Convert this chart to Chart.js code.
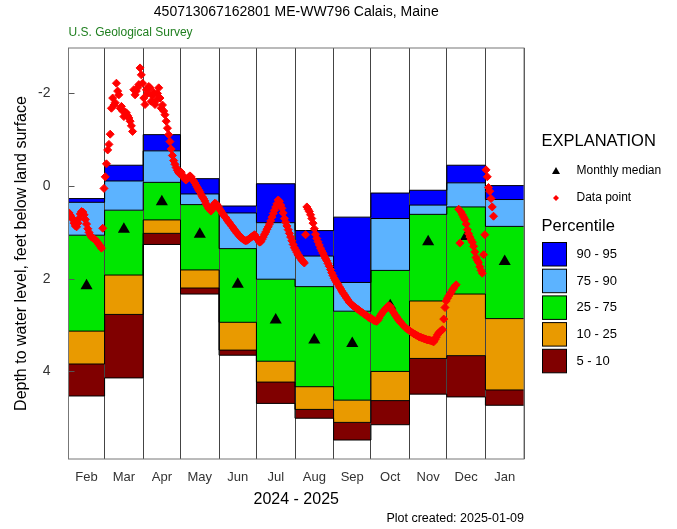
<!DOCTYPE html>
<html>
<head>
<meta charset="utf-8">
<script src="https://cdn.jsdelivr.net/npm/chart.js@4.4.1/dist/chart.umd.min.js"></script>
<style>
  html, body { margin: 0; background: #fff; }
  #wrap { width: 677px; height: 529px; }
</style>
</head>
<body>
<div id="wrap"><canvas id="chart" width="677" height="529"></canvas></div>
<script>
// Groundwater percentile plot — ME-WW796 Calais, Maine

const FONT = "'Liberation Sans', Arial, sans-serif";

// ---------- Data ----------
const months = ["Feb", "Mar", "Apr", "May", "Jun", "Jul", "Aug", "Sep", "Oct", "Nov", "Dec", "Jan"];
const monthDays = [29, 31, 30, 31, 30, 31, 31, 30, 31, 30, 31, 31];

// percentile levels per month (feet below land surface)
const p95 = [0.27, -0.45, -1.11, -0.16, 0.43, -0.05, 0.96, 0.67, 0.15, 0.09, -0.45, -0.01];
const p90 = [0.35, -0.11, -0.76, 0.17, 0.58, 0.79, 1.51, 2.08, 0.70, 0.41, -0.07, 0.29];
const p75 = [1.06, 0.52, -0.08, 0.40, 1.35, 2.01, 2.17, 2.70, 1.82, 0.61, 0.45, 0.87];
const p25 = [3.13, 1.92, 0.73, 1.81, 2.94, 3.78, 4.33, 4.62, 4.00, 2.48, 2.33, 2.86];
const p10 = [3.84, 2.77, 1.02, 2.20, 3.54, 4.23, 4.82, 5.10, 4.63, 3.72, 3.66, 4.40];
const p5 = [4.53, 4.14, 1.26, 2.33, 3.65, 4.69, 5.01, 5.48, 5.15, 4.49, 4.55, 4.73];
const monthlyMedian = [2.15, 0.93, 0.34, 1.04, 2.12, 2.89, 3.32, 3.40, 2.58, 1.20, 1.09, 1.63];

// daily data points, one value per day of each month (null = no value)
const febDepth = [0.58, 0.63, 0.68, 0.72, 0.80, 0.86, 0.88, 0.80, 0.70, 0.60, 0.55, 0.56, 0.62, 0.72, 0.82,
  0.92, 1.00, 1.06, 1.10, 1.12, 1.14, 1.16, 1.19, 1.22, 1.26, 1.30, 1.34, 0.91, 0.05];
const marDepth = [-0.20, -0.48, -0.78, -0.90, -1.12, -1.68, -1.90, -1.75, -1.80, -2.22, -2.05, -1.97, -1.68,
  -1.72, -1.62, -1.50, -1.60, -1.58, -1.52, -1.47, -1.40, -1.30, -1.18, -2.08, -1.97, -2.05, -2.12, -2.19,
  -2.55, -2.40, -2.22];
const aprDepth = [-1.90, -1.76, -2.08, -2.00, -2.15, -2.12, -1.83, -1.95, -2.02, -1.76, -1.85, -2.00, -2.12,
  -1.90, -1.68, -1.75, -1.62, -1.54, -1.40, -1.25, -1.11, -0.96, -0.80, -0.66, -0.55, -0.47, -0.40, -0.34,
  -0.29, -0.26];
const mayDepth = [-0.30, -0.24, -0.19, -0.15, -0.13, -0.16, -0.19, -0.22, -0.20, -0.15, -0.11, -0.07, -0.02,
  0.03, 0.08, 0.12, 0.18, 0.23, 0.27, 0.32, 0.38, 0.43, 0.48, 0.51, 0.54, 0.50, 0.42, 0.37, 0.38, 0.41, 0.45];
const junDepth = [0.50, 0.54, 0.58, 0.62, 0.66, 0.69, 0.73, 0.77, 0.80, 0.84, 0.87, 0.91, 0.95, 0.98, 1.02,
  1.05, 1.08, 1.11, 1.13, 1.15, 1.17, 1.18, 1.17, 1.15, 1.13, 1.11, 1.09, 1.07, 1.05, 1.10];
const julDepth = [1.12, 1.17, 1.21, 1.20, 1.15, 1.10, 1.04, 0.99, 0.93, 0.88, 0.82, 0.75, 0.67, 0.59, 0.52,
  0.45, 0.38, 0.30, 0.33, 0.41, 0.48, 0.58, 0.70, 0.78, 0.86, 0.94, 1.02, 1.10, 1.18, 1.26, 1.33];
const augDepth = [1.38, 1.43, 1.48, 1.52, 1.56, 1.60, 1.63, 1.66, 1.05, 0.45, 0.50, 0.55, 0.62, 0.70, 0.80,
  0.92, 1.04, 1.13, 1.20, 1.27, 1.34, 1.40, 1.45, 1.51, 1.56, 1.61, 1.67, 1.73, 1.80, 1.87, 1.93];
const sepDepth = [1.99, 2.04, 2.08, 2.12, 2.17, 2.21, 2.26, 2.30, 2.34, 2.38, 2.42, 2.46, 2.50, 2.53, 2.56,
  2.58, 2.60, 2.62, 2.64, 2.66, 2.68, 2.70, 2.72, 2.74, 2.76, 2.78, 2.80, 2.82, 2.84, 2.85];
const octDepth = [2.86, 2.88, 2.90, 2.91, 2.92, 2.90, 2.85, 2.80, 2.76, 2.72, 2.69, 2.66, 2.63, 2.60, 2.58,
  2.60, 2.65, 2.70, 2.74, 2.78, 2.82, 2.86, 2.90, 2.93, 2.96, 2.99, 3.02, 3.05, 3.07, 3.09, 3.11];
const novDepth = [3.13, 3.15, 3.17, 3.19, 3.20, 3.22, 3.23, 3.25, 3.26, 3.27, 3.28, 3.29, 3.30, 3.31, 3.32,
  3.32, 3.33, 3.34, 3.35, 3.36, 3.31, 3.26, 3.21, 3.17, 3.14, 3.12, 3.10, 2.87, 2.62, 2.48];
const decDepth = [2.42, 2.37, 2.33, 2.29, 2.24, 2.20, 2.16, 2.13, null, 0.50, 1.23, 0.56, 0.62, 0.67, 0.72,
  0.82, 0.94, 1.03, 1.10, 1.16, 1.21, 1.30, 1.42, 1.54, 1.60, 1.65, 1.74, 1.82, 1.88, 1.48, 1.05];
const janDepth = [-0.35, -0.20, 0.03, 0.11, 0.27, 0.45, 0.65];

const dailyByMonth = [febDepth, marDepth, aprDepth, mayDepth, junDepth, julDepth,
  augDepth, sepDepth, octDepth, novDepth, decDepth, janDepth];

const yTicks = [-2, 0, 2, 4];

const bandColors = {
  "90 - 95": "#0000ff",
  "75 - 90": "#5cb3ff",
  "25 - 75": "#00e600",
  "10 - 25": "#e99a00",
  "5 - 10": "#800000",
};

// ---------- Helpers ----------
const monthStart = [];
let acc = 0;
monthDays.forEach((d) => { monthStart.push(acc); acc += d; });
const totalDays = acc;
const monthMid = monthStart.map((s, i) => s + monthDays[i] / 2);

const xTickValues = [];
monthStart.forEach((s, i) => { xTickValues.push(s, monthMid[i]); });
xTickValues.push(totalDays);

function monthLabel(v) {
  const i = monthMid.indexOf(v);
  return i >= 0 ? months[i] : "";
}

// stepped line holding each month's level until the next month starts
function stepData(levels) {
  const pts = monthStart.map((s, i) => ({ x: s, y: levels[i] }));
  pts.push({ x: totalDays, y: levels[levels.length - 1] });
  return pts;
}

const dataPoints = [];
dailyByMonth.forEach((arr, m) => {
  arr.forEach((v, d) => {
    if (v !== null) dataPoints.push({ x: monthStart[m] + d + 0.5, y: v });
  });
});

function bandLine(levels, fillTo, color) {
  return {
    type: "line",
    showLine: true,
    data: stepData(levels),
    stepped: "before",
    borderColor: "#000",
    borderWidth: 1,
    pointRadius: 0,
    fill: fillTo === null ? false : fillTo,
    backgroundColor: color || "transparent",
  };
}

// ---------- Overlay: frame, ticks, texts, explanation ----------
const overlay = {
  id: "overlay",
  afterDraw(chart) {
    const { ctx, chartArea: a, scales } = chart;
    ctx.save();

    // inward y tick marks
    ctx.strokeStyle = "#555";
    ctx.lineWidth = 1;
    yTicks.forEach((v) => {
      const y = Math.round(scales.y.getPixelForValue(v)) + 0.5;
      ctx.beginPath();
      ctx.moveTo(a.left, y);
      ctx.lineTo(a.left + 6, y);
      ctx.stroke();
    });

    // plot frame
    ctx.strokeStyle = "#777";
    ctx.strokeRect(a.left, a.top, a.right - a.left, a.bottom - a.top);

    const text = (s, x, y, size, align, color) => {
      ctx.font = size + "px " + FONT;
      ctx.textAlign = align;
      ctx.textBaseline = "middle";
      ctx.fillStyle = color || "#000";
      ctx.fillText(s, x, y);
    };
    const cx = (a.left + a.right) / 2;

    text("450713067162801 ME-WW796 Calais, Maine", cx, 12.5, 14, "center");
    text("U.S. Geological Survey", a.left, 33, 12, "left", "#1f7f1f");
    text("2024 - 2025", cx, 500, 16, "center");
    text("Plot created: 2025-01-09", a.right, 519, 12.5, "right");

    // y axis title
    ctx.save();
    ctx.translate(22, (a.top + a.bottom) / 2);
    ctx.rotate(-Math.PI / 2);
    text("Depth to water level, feet below land surface", 0, 0, 16, "center");
    ctx.restore();

    // explanation
    text("EXPLANATION", 541.5, 141.5, 16.5, "left");
    ctx.fillStyle = "#000";
    ctx.beginPath();
    ctx.moveTo(556, 167);
    ctx.lineTo(560, 174);
    ctx.lineTo(552, 174);
    ctx.closePath();
    ctx.fill();
    text("Monthly median", 576.5, 171, 12, "left");
    ctx.fillStyle = "#ff0000";
    ctx.beginPath();
    ctx.moveTo(556, 195);
    ctx.lineTo(559, 198);
    ctx.lineTo(556, 201);
    ctx.lineTo(553, 198);
    ctx.closePath();
    ctx.fill();
    text("Data point", 576.5, 198, 12, "left");
    text("Percentile", 541.5, 226.5, 16.5, "left");

    Object.keys(bandColors).forEach((lab, i) => {
      const top = 242.5 + i * 26.7;
      ctx.fillStyle = bandColors[lab];
      ctx.fillRect(542.5, top, 24, 23.5);
      ctx.strokeStyle = "#000";
      ctx.strokeRect(542.5, top, 24, 23.5);
      text(lab, 576.5, top + 12, 13, "left");
    });

    ctx.restore();
  },
};

// ---------- Chart ----------
const cols = Object.values(bandColors);

new Chart(document.getElementById("chart"), {
  type: "scatter",
  data: {
    datasets: [
      {
        // daily data points (index 0 = drawn on top)
        data: dataPoints,
        pointStyle: "rectRot",
        pointRadius: 4,
        borderWidth: 1,
        borderColor: "#ff0000",
        backgroundColor: "#ff0000",
      },
      {
        data: monthMid.map((x, i) => ({ x, y: monthlyMedian[i] })),
        pointStyle: "triangle",
        pointRadius: 7,
        borderWidth: 0,
        backgroundColor: "#000",
      },
      bandLine(p95, null),
      bandLine(p90, 2, cols[0]),
      bandLine(p75, 3, cols[1]),
      bandLine(p25, 4, cols[2]),
      bandLine(p10, 5, cols[3]),
      bandLine(p5, 6, cols[4]),
    ],
  },
  options: {
    responsive: false,
    animation: false,
    devicePixelRatio: 1,
    layout: { padding: { top: 48, right: 153, left: 0, bottom: 0 } },
    plugins: {
      legend: { display: false },
      tooltip: { enabled: false },
      filler: { drawTime: "beforeDraw" },
    },
    scales: {
      x: {
        type: "linear",
        min: 0,
        max: totalDays,
        afterBuildTicks: (s) => { s.ticks = xTickValues.map((v) => ({ value: v })); },
        afterFit: (s) => { s.height = 70; },
        border: { display: false },
        grid: {
          drawTicks: false,
          lineWidth: 1,
          color: (c) => (c.tick && monthLabel(c.tick.value) ? "rgba(0,0,0,0)" : "#444"),
        },
        ticks: {
          autoSkip: false,
          maxRotation: 0,
          padding: 11,
          color: "#333",
          font: { family: FONT, size: 13 },
          callback: (v) => monthLabel(v),
        },
      },
      y: {
        type: "linear",
        reverse: true,
        min: -2.98,
        max: 5.89,
        afterBuildTicks: (s) => { s.ticks = yTicks.map((v) => ({ value: v })); },
        afterFit: (s) => { s.width = 68.5; },
        border: { display: false },
        grid: { display: false },
        ticks: {
          padding: 10,
          color: "#333",
          font: { family: FONT, size: 14 },
          callback: (v) => String(v),
        },
      },
    },
  },
  plugins: [overlay],
});
</script>
</body>
</html>
